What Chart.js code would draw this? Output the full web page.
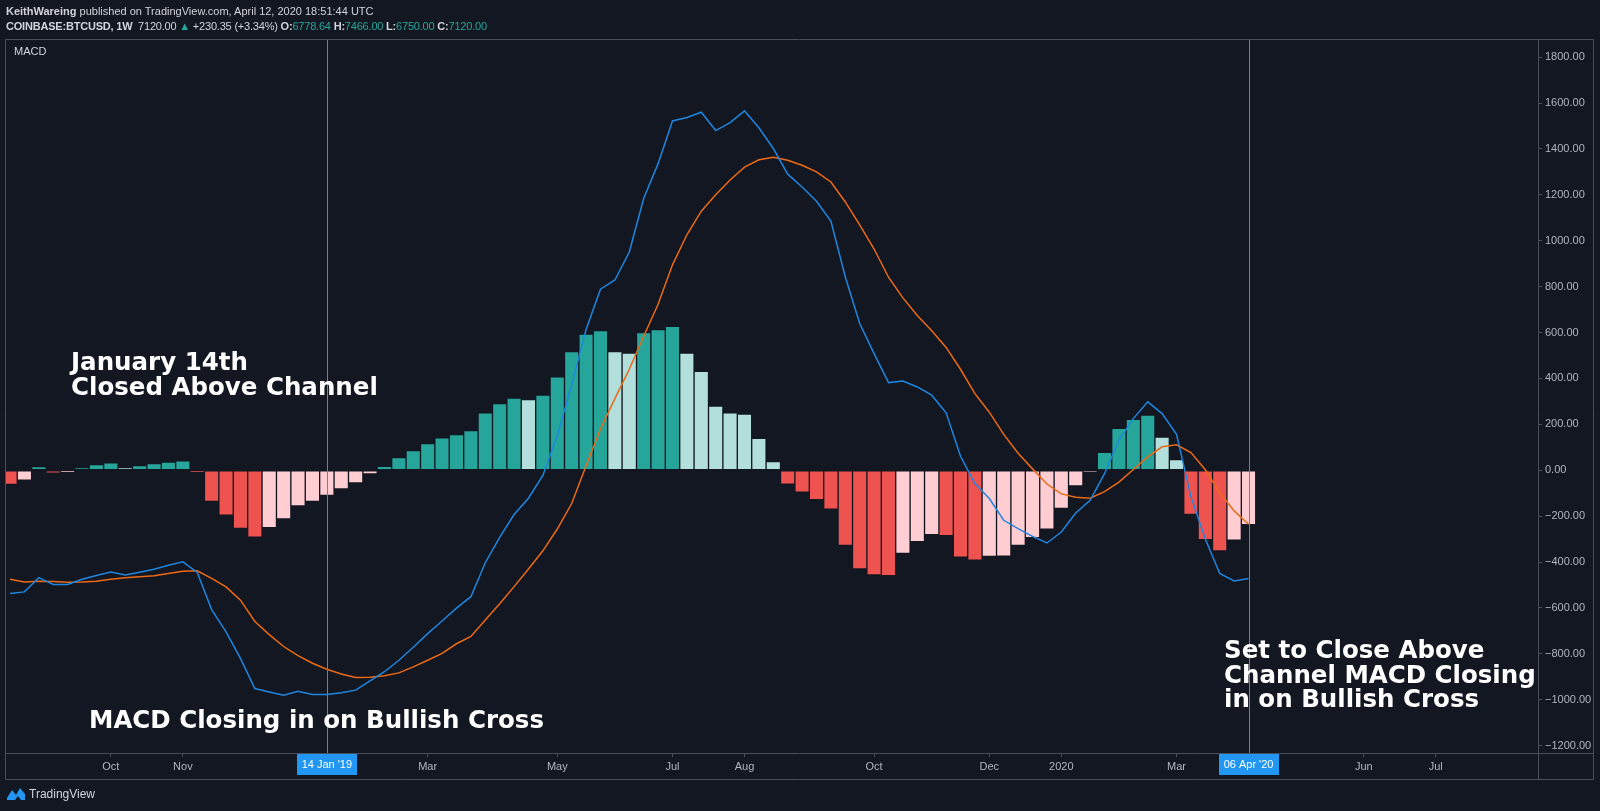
<!DOCTYPE html>
<html><head><meta charset="utf-8">
<script src="https://cdn.jsdelivr.net/npm/chart.js@4.4.1/dist/chart.umd.min.js"></script>
<style>
html,body{margin:0;padding:0;background:#131722;width:1600px;height:811px;overflow:hidden;font-family:"Liberation Sans",Arial,sans-serif;}
#wrap{position:relative;width:1600px;height:811px;}
canvas{position:absolute;left:0;top:0;}
.hdr{position:absolute;left:6px;color:#d1d4dc;font-size:11px;white-space:nowrap;line-height:14px;}
.up{color:#26a69a;}
.note{position:absolute;color:#ffffff;font-family:"DejaVu Sans",sans-serif;font-weight:bold;font-size:24.5px;line-height:24.5px;white-space:nowrap;}
.pane{position:absolute;left:14px;top:45px;color:#d1d4dc;font-size:11px;}
.logo{position:absolute;left:6px;top:786px;color:#d1d4dc;font-size:12px;display:flex;align-items:center;gap:3px;}
</style></head>
<body><div id="wrap">
<canvas id="c" width="1600" height="811"></canvas>
<div class="hdr" style="top:4px"><b>KeithWareing</b> published on TradingView.com, April 12, 2020 18:51:44 UTC</div>
<div class="hdr" style="top:19px;letter-spacing:-0.2px"><b>COINBASE:BTCUSD, 1W</b>&nbsp; 7120.00 <span class="up">&#9650;</span> +230.35 (+3.34%) <b>O:</b><span class="up">6778.64</span> <b>H:</b><span class="up">7466.00</span> <b>L:</b><span class="up">6750.00</span> <b>C:</b><span class="up">7120.00</span></div>
<div class="pane">MACD</div>
<div class="note" style="left:71px;top:350px">January 14th<br>Closed Above Channel</div>
<div class="note" style="left:89px;top:708px">MACD Closing in on Bullish Cross</div>
<div class="note" style="left:1224px;top:638px">Set to Close Above<br>Channel MACD Closing<br>in on Bullish Cross</div>
<div class="logo"><svg width="20" height="16" viewBox="0 0 20 16"><path d="M1 12 L6 4 L10 9 L14 2 L19 8 L19 14 L15 14 L12 10 L9 14 L1 14 Z" fill="#2196f3"/></svg><span>TradingView</span></div>
</div>
<script>
// ---- data ----
const firstWeek = '2018-08-13';
const histogram = [-62,-43,16,-13,-10,12,25,32,12,20,29,36,41,-7,-136,-196,-254,-292,-250,-212,-155,-136,-110,-81,-55,-16,17,55,86,116,141,155,173,250,290,314,308,328,407,517,593,609,517,511,600,613,627,511,431,280,250,245,139,38,-61,-95,-128,-170,-327,-430,-456,-459,-362,-311,-281,-285,-379,-392,-376,-374,-328,-294,-257,-166,-68,-9,78,183,222,240,145,46,-193,-302,-352,-305,-237];
const macd = [-537,-530,-468,-498,-498,-475,-459,-443,-456,-444,-431,-414,-399,-445,-607,-704,-820,-951,-966,-980,-963,-977,-977,-969,-958,-918,-878,-828,-771,-712,-657,-601,-551,-403,-292,-193,-122,-23,151,372,613,789,829,951,1184,1336,1522,1537,1560,1480,1515,1566,1492,1402,1290,1234,1172,1086,842,639,508,382,389,363,327,250,61,-58,-123,-218,-254,-288,-317,-269,-186,-131,-15,131,225,298,247,157,-116,-300,-450,-482,-472];
const signal = [-475,-487,-484,-485,-488,-487,-484,-475,-468,-464,-460,-450,-440,-438,-471,-508,-566,-659,-716,-768,-808,-841,-867,-888,-903,-902,-895,-883,-857,-828,-798,-756,-724,-653,-582,-507,-430,-351,-256,-145,20,180,312,440,584,723,895,1026,1129,1200,1265,1321,1353,1364,1351,1329,1300,1256,1169,1069,964,841,751,674,608,535,440,334,253,156,74,6,-60,-103,-118,-122,-93,-52,3,58,102,111,77,2,-98,-177,-235];
const tickDates  = ['2018-10-01','2018-11-05','2019-01-14','2019-03-04','2019-05-06','2019-07-01','2019-08-05','2019-10-07','2019-12-02','2020-01-06','2020-03-02','2020-04-06','2020-06-01','2020-07-06'];
const tickLabels = ['Oct','Nov','','Mar','May','Jul','Aug','Oct','Dec','2020','Mar','','Jun','Jul'];
const yTicks = [-1200,-1000,-800,-600,-400,-200,0,200,400,600,800,1000,1200,1400,1600,1800];
const markerDates  = ['2019-01-14','2020-04-06'];
const markerLabels = ["14 Jan '19","06 Apr '20"];

// ---- helpers ----
const DAY = 86400000;
function weekIndex(d){ return Math.round((Date.parse(d) - Date.parse(firstWeek)) / (7*DAY)); }
const COLORS = {up:'#26a69a', upFade:'#b2dfdb', downFade:'#ffcdd2', down:'#ef5350'};
const barColors = histogram.map((v,i)=>{
  const prev = i>0 ? histogram[i-1] : 0;
  if (v >= 0) return v > prev ? COLORS.up : COLORS.upFade;
  return v > prev ? COLORS.downFade : COLORS.down;
});

const frame = {
  id:'frame',
  afterDraw(chart){
    const ctx = chart.ctx, a = chart.chartArea, xs = chart.scales.x;
    ctx.save();
    markerDates.forEach((d,k)=>{
      const px = Math.round(xs.getPixelForValue(weekIndex(d))) + 0.5;
      ctx.strokeStyle = '#2196f3'; ctx.lineWidth = 1;
      ctx.beginPath(); ctx.moveTo(px, a.top); ctx.lineTo(px, a.bottom); ctx.stroke();
    });
    ctx.strokeStyle = '#4a4e5a'; ctx.lineWidth = 1;
    const L = 5.5, T = a.top + 0.5, R = 1593.5, B = 779.5;
    ctx.beginPath();
    ctx.moveTo(L, T); ctx.lineTo(R, T); ctx.lineTo(R, B); ctx.lineTo(L, B); ctx.closePath();
    ctx.moveTo(Math.round(a.right)+0.5, T); ctx.lineTo(Math.round(a.right)+0.5, B);
    ctx.moveTo(L, Math.round(a.bottom)+0.5); ctx.lineTo(R, Math.round(a.bottom)+0.5);
    ctx.stroke();
    ctx.font = '11px "Liberation Sans", Arial, sans-serif';
    ctx.textAlign = 'center'; ctx.textBaseline = 'middle';
    markerDates.forEach((d,k)=>{
      const px = xs.getPixelForValue(weekIndex(d));
      const w = ctx.measureText(markerLabels[k]).width + 10;
      ctx.fillStyle = '#2196f3';
      ctx.fillRect(Math.round(px - w/2), Math.round(a.bottom)+1, Math.round(w), 21);
      ctx.fillStyle = '#ffffff';
      ctx.fillText(markerLabels[k], px, a.bottom + 12);
    });
    ctx.restore();
  }
};

new Chart(document.getElementById('c'), {
  type:'bar',
  data:{
    datasets:[
      {type:'line', label:'MACD', data: macd.map((v,i)=>({x:i,y:v})), borderColor:'#1f86e0', borderWidth:1.5, pointRadius:0, tension:0, order:1},
      {type:'line', label:'Signal', data: signal.map((v,i)=>({x:i,y:v})), borderColor:'#ec6a15', borderWidth:1.5, pointRadius:0, tension:0, order:2},
      {type:'bar', label:'Histogram', data: histogram.map((v,i)=>({x:i,y:v})), backgroundColor: barColors, borderColor:'rgba(19,23,34,0.55)', borderWidth:1, borderSkipped:false, barPercentage:1, categoryPercentage:1, order:3}
    ]
  },
  options:{
    responsive:false, animation:false, devicePixelRatio:1,
    layout:{padding:{left:5, top:39, right:7, bottom:32}},
    plugins:{legend:{display:false}, tooltip:{enabled:false}},
    scales:{
      x:{
        type:'linear', min:-0.35, max:106.1, offset:false,
        grid:{display:true, offset:false, drawOnChartArea:false, drawTicks:true, tickLength:4, color:'#4a4e5a'},
        border:{display:false},
        ticks:{color:'#b2b5be', font:{size:11, family:'"Liberation Sans", Arial, sans-serif'}, maxRotation:0, autoSkip:false, padding:3,
          callback:(v,i)=>tickLabels[i]},
        afterBuildTicks:(s)=>{ s.ticks = tickDates.map(d=>({value:weekIndex(d)})); },
        afterFit:(s)=>{ s.height = 26; }
      },
      y:{
        position:'right', min:-1232, max:1879,
        grid:{display:true, drawOnChartArea:false, drawTicks:true, tickLength:4, color:'#4a4e5a'},
        border:{display:false},
        ticks:{color:'#b2b5be', font:{size:11, family:'"Liberation Sans", Arial, sans-serif'}, padding:3,
          callback:(v)=> (v<0?'\u2212':'') + Math.abs(v).toFixed(2)},
        afterBuildTicks:(s)=>{ s.ticks = yTicks.map(v=>({value:v})); },
        afterFit:(s)=>{ s.width = 55; }
      }
    }
  },
  plugins:[frame]
});
</script>
</body></html>
